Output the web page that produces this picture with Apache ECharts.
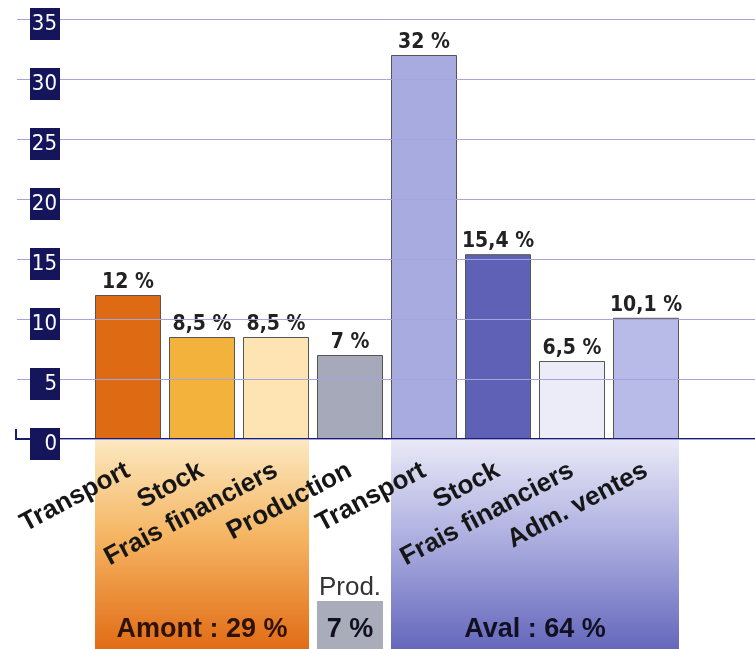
<!DOCTYPE html>
<html>
<head>
<meta charset="utf-8">
<script src="https://cdn.jsdelivr.net/npm/echarts@6.0.0/dist/echarts.min.js"></script>
<style>
  html, body { margin: 0; padding: 0; background: #fff; }
  #chart { width: 755px; height: 649px; }
</style>
</head>
<body>
<div id="chart"></div>
<script>
// empty slot at each end so the grid lines run across the whole width
const categories = ['', 'Transport', 'Stock', 'Frais financiers', 'Production',
  'Transport', 'Stock', 'Frais financiers', 'Adm. ventes', '']
const values = [null, 12, 8.5, 8.5, 7, 32, 15.4, 6.5, 10.1, null]
const barColors = [null, '#df6a14', '#f3b23c', '#fde4b2', '#a5a9b9',
  '#a8abe0', '#5e61b6', '#ececf8', '#b8bbe8', null]

// groups shown under the axis: first bar index, last bar index, text
const groupStart = [1, 4, 5]
const groupEnd = [3, 4, 8]
const groupText = ['Amont : 29 %', '7 %', 'Aval : 64 %']

const narrow = '"Liberation Sans Narrow", "DejaVu Sans Condensed", "Arial Narrow", sans-serif'
const sans = '"Liberation Sans", Arial, sans-serif'
const BAR_W = 66

const chart = echarts.init(document.getElementById('chart'))

const gradients = [
  new echarts.graphic.LinearGradient(0, 0, 0, 1, [
    { offset: 0, color: '#fce8c0' },
    { offset: 0.45, color: '#f5b664' },
    { offset: 1, color: '#e26c16' },
  ]),
  '#a9acb9',
  new echarts.graphic.LinearGradient(0, 0, 0, 1, [
    { offset: 0, color: '#e9e9f7' },
    { offset: 0.5, color: '#a9abde' },
    { offset: 1, color: '#6567bc' },
  ]),
]

const option = {
  animation: false,
  grid: { left: 17, right: -2, top: 19, bottom: 210, outerBoundsMode: 'none' },
  xAxis: {
    type: 'category',
    data: categories,
    z: 10,
    axisLine: { lineStyle: { color: '#1c1c6e', width: 2 } },
    axisTick: { show: false },
    axisLabel: {
      interval: 0,
      rotate: 28,
      margin: 30,
      fontSize: 26,
      fontWeight: 'bold',
      fontFamily: sans,
      color: '#161616',
    },
  },
  yAxis: {
    type: 'value',
    min: 0,
    max: 35,
    interval: 5,
    z: 12,
    axisLine: { show: false },
    axisTick: { show: false },
    splitLine: { lineStyle: { color: '#a4a4de', width: 1 } },
    axisLabel: {
      inside: true,
      margin: 43,
      align: 'right',
      // the navy box sits a little below its grid line
      formatter: '{s| }{a|{value}}',
      rich: {
        s: { fontSize: 1, width: 1, height: 42, lineHeight: 42 },
        a: {
          width: 27,
          height: 32,
          padding: [0, 3, 0, 0],
          align: 'right',
          verticalAlign: 'bottom',
          backgroundColor: '#15155c',
          color: '#fff',
          fontSize: 22,
          fontFamily: narrow,
        },
      },
    },
  },
  series: [
    {
      type: 'custom',
      z: 0,
      clip: false,
      silent: true,
      data: groupStart.map((s, i) => [s, groupEnd[i]]),
      renderItem(params, api) {
        const i = params.dataIndex
        const a = api.coord([api.value(0), 0])
        const b = api.coord([api.value(1), 0])
        const H = api.getHeight()
        const x0 = a[0] - BAR_W / 2
        const x1 = b[0] + BAR_W / 2
        const top = i === 1 ? H - 48 : a[1] + 1
        const children = [
          {
            type: 'rect',
            shape: { x: x0, y: top, width: x1 - x0, height: H - top },
            style: { fill: gradients[i] },
          },
          {
            type: 'text',
            style: {
              text: groupText[i],
              x: (x0 + x1) / 2,
              y: H - 19,
              align: 'center',
              verticalAlign: 'middle',
              font: 'bold 27px ' + sans,
              fill: i === 0 ? '#2e1206' : '#101020',
            },
          },
        ]
        if (i === 1) {
          children.push({
            type: 'text',
            style: {
              text: 'Prod.',
              x: (x0 + x1) / 2,
              y: top - 13,
              align: 'center',
              verticalAlign: 'middle',
              font: '26px ' + sans,
              fill: '#333',
            },
          })
        }
        return { type: 'group', children }
      },
    },
    {
      type: 'bar',
      z: 2,
      barWidth: BAR_W,
      data: values.map((v, i) => ({
        value: v,
        itemStyle: { color: barColors[i] || '#ccc' },
      })),
      itemStyle: { borderColor: '#555', borderWidth: 1 },
      label: {
        show: true,
        position: 'top',
        distance: 2,
        fontSize: 21,
        fontWeight: 'bold',
        fontFamily: narrow,
        color: '#222',
        formatter: p => String(p.value).replace('.', ',') + ' %',
      },
    },
  ],
}

chart.setOption(option)

// small bracket at the left end of the zero line
const y0 = chart.convertToPixel({ yAxisIndex: 0 }, 0)
chart.setOption({
  graphic: [{
    type: 'polyline',
    shape: { points: [[16, y0 - 10], [16, y0], [30, y0]] },
    style: { stroke: '#1c1c6e', lineWidth: 2, fill: null },
    z: 20,
  }],
})
</script>
</body>
</html>
